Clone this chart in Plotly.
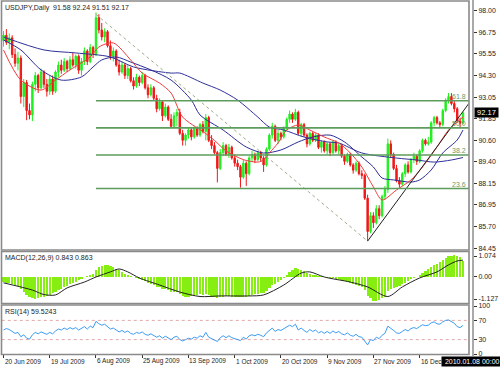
import plotly.graph_objects as go

W, H = 500, 367
def px(x): return x / W
def py(y): return 1 - y / H

# ---------------- data ----------------
date_ticks = [0, 16, 32, 48, 64, 80, 96, 112, 128, 144]
date_labels = ["20 Jun 2009", "19 Jul 2009", "6 Aug 2009", "25 Aug 2009", "13 Sep 2009",
               "1 Oct 2009", "20 Oct 2009", "9 Nov 2009", "27 Nov 2009", "16 Dec 2009"]

opens = [96.30,96.60,96.20,96.45,95.50,95.00,95.30,93.10,93.90,92.30,
         92.05,93.80,94.30,93.60,94.50,93.80,93.40,94.10,93.40,94.50,
         94.90,94.60,95.10,94.70,95.20,94.90,95.40,94.60,95.10,95.70,
         95.10,95.90,95.50,97.60,96.90,96.50,96.80,96.00,95.40,95.70,
         94.90,94.50,94.90,94.30,94.70,94.00,93.70,94.20,93.90,94.30,
         93.60,93.20,93.60,93.00,92.40,92.80,92.00,92.50,91.80,91.40,
         92.00,92.20,91.00,90.60,90.90,91.20,90.80,91.30,90.90,91.50,
         91.10,91.90,90.60,90.30,89.90,89.00,89.90,90.30,89.80,90.20,
         89.60,89.30,89.10,88.50,89.30,88.70,89.60,89.80,89.50,89.90,
         89.60,89.20,90.10,90.90,91.40,90.60,91.00,90.80,91.30,91.80,
         92.10,91.80,92.20,91.00,91.50,90.90,90.40,91.00,90.60,90.90,
         90.20,90.50,90.00,90.40,89.90,90.50,90.00,90.30,89.70,89.40,
         89.80,89.20,88.90,89.30,88.70,88.60,87.30,85.40,86.30,85.90,
         86.70,86.30,87.40,87.80,90.40,89.80,89.00,88.30,88.10,88.70,
         89.20,88.80,89.50,89.70,89.40,90.00,90.60,90.40,90.50,91.60,
         91.90,91.60,91.50,92.30,92.90,93.10,92.70,92.40,91.70,91.58]
highs = [96.85,96.95,96.70,96.60,95.85,95.65,95.45,94.10,94.05,92.70,
         93.95,94.50,94.40,94.70,94.60,94.10,94.30,94.30,94.60,95.10,
         95.20,95.30,95.20,95.40,95.60,95.50,95.50,95.30,95.90,95.80,
         96.10,96.00,97.90,97.80,97.30,97.00,96.90,96.30,95.90,95.80,
         95.20,95.10,95.00,94.90,94.80,94.20,94.40,94.30,94.50,94.40,
         93.80,93.80,93.70,93.20,93.00,92.90,92.70,92.60,92.10,92.20,
         92.40,92.40,91.20,91.00,91.30,91.30,91.40,91.40,91.60,91.70,
         92.10,92.00,90.90,90.50,90.00,90.10,90.50,90.40,90.40,90.30,
         89.80,89.50,89.20,89.50,89.40,89.70,90.00,89.90,90.00,90.00,
         89.70,90.20,91.00,91.60,91.50,91.20,91.10,91.40,91.90,92.30,
         92.20,92.40,92.30,91.60,91.60,91.00,91.10,91.10,91.00,91.00,
         90.60,90.60,90.50,90.50,90.60,90.60,90.40,90.40,89.80,89.90,
         89.90,89.30,89.40,89.40,88.90,88.70,87.50,86.50,86.50,86.90,
         86.90,87.50,88.00,90.70,90.60,89.90,89.20,88.50,88.80,89.30,
         89.40,89.60,89.90,89.80,90.10,90.70,90.70,90.80,91.70,92.00,
         92.00,91.70,92.40,93.00,93.30,93.30,92.90,92.50,91.90,92.24]
lows = [95.95,96.05,95.80,95.30,94.80,94.60,92.70,92.50,91.75,91.80,
        91.70,93.40,93.30,93.50,93.60,93.10,93.20,93.20,93.30,94.20,
        94.40,94.50,94.50,94.60,94.80,94.70,94.40,94.30,94.90,94.90,
        95.00,95.30,95.40,96.70,96.30,96.20,95.90,95.20,95.10,94.80,
        94.30,94.40,94.10,94.10,93.90,93.50,93.60,93.70,93.80,93.50,
        93.00,93.10,92.90,92.20,92.30,91.70,91.90,91.70,91.30,91.30,
        91.40,90.90,90.30,90.30,90.70,90.60,90.70,90.80,90.80,91.00,
        90.60,90.50,90.10,89.80,88.20,88.90,89.70,89.70,89.60,89.50,
        89.10,88.90,87.90,88.40,88.00,88.60,89.40,89.30,89.40,89.40,
        88.80,89.10,90.00,90.70,90.50,90.40,90.60,90.70,91.20,91.60,
        91.60,91.70,90.90,90.80,90.80,90.20,90.30,90.50,90.50,90.10,
        89.90,89.90,89.80,89.70,89.80,89.90,89.80,89.60,89.20,89.30,
        89.10,88.70,88.80,88.60,88.40,87.20,84.85,85.30,85.60,85.80,
        86.10,86.20,87.20,87.60,89.60,88.90,88.20,87.90,88.00,88.50,
        88.70,88.70,89.30,89.20,89.30,89.90,90.30,90.30,90.40,91.40,
        91.50,91.30,91.40,92.20,92.70,92.60,92.20,91.60,91.30,91.51]
closes = [96.60,96.20,96.45,95.50,95.00,95.30,93.10,93.90,92.30,92.05,
          93.80,94.30,93.60,94.50,93.80,93.40,94.10,93.40,94.50,94.90,
          94.60,95.10,94.70,95.20,94.90,95.40,94.60,95.10,95.70,95.10,
          95.90,95.50,97.60,96.90,96.50,96.80,96.00,95.40,95.70,94.90,
          94.50,94.90,94.30,94.70,94.00,93.70,94.20,93.90,94.30,93.60,
          93.20,93.60,93.00,92.40,92.80,92.00,92.50,91.80,91.40,92.00,
          92.20,91.00,90.60,90.90,91.20,90.80,91.30,90.90,91.50,91.10,
          91.90,90.60,90.30,89.90,89.00,89.90,90.30,89.80,90.20,89.60,
          89.30,89.10,88.50,89.30,88.70,89.60,89.80,89.50,89.90,89.60,
          89.20,90.10,90.90,91.40,90.60,91.00,90.80,91.30,91.80,92.10,
          91.80,92.20,91.00,91.50,90.90,90.40,91.00,90.60,90.90,90.20,
          90.50,90.00,90.40,89.90,90.50,90.00,90.30,89.70,89.40,89.80,
          89.20,88.90,89.30,88.70,88.60,87.30,85.40,86.30,85.90,86.70,
          86.30,87.40,87.80,90.40,89.80,89.00,88.30,88.10,88.70,89.20,
          88.80,89.50,89.70,89.40,90.00,90.60,90.40,90.50,91.60,91.90,
          91.60,91.50,92.30,92.90,93.10,92.70,92.40,91.70,91.58,92.17]
bars = list(range(len(closes)))

# moving averages (bar index, price)
ma_red_x = [0, 6, 13, 18, 23, 30, 33, 38, 44, 48, 54, 58, 62, 69, 73, 77, 83, 88, 90, 92, 95, 98, 102, 106, 111, 116, 120, 124, 128, 131, 136, 141, 145, 150, 154, 159]
ma_red_y = [95.76, 94.04, 93.47, 94.04, 94.62, 95.36, 95.93, 96.16, 95.19, 94.44, 93.87, 93.30, 91.93, 91.10, 90.60, 90.00, 89.50, 89.36, 89.48, 89.88, 90.45, 91.19, 91.48, 91.19, 90.79, 90.45, 89.88, 89.08, 87.94, 87.20, 87.77, 88.34, 89.08, 90.22, 91.19, 91.93]
ma_mid_x = [0, 6, 13, 20, 27, 31, 34, 39, 44, 51, 58, 65, 68, 76, 84, 90, 96, 102, 107, 113, 118, 124, 128, 131, 135, 141, 144, 148, 152, 157, 159]
ma_mid_y = [96.33, 95.76, 94.62, 94.04, 94.22, 94.79, 95.19, 95.36, 95.07, 94.62, 94.04, 92.90, 92.05, 91.19, 90.22, 89.88, 90.05, 90.51, 90.79, 90.90, 90.51, 89.65, 89.08, 88.45, 88.34, 88.22, 88.34, 88.91, 89.88, 90.62, 91.19]
ma_slow_x = [0, 14, 25, 37, 45, 58, 61, 69, 75, 81, 88, 92, 97, 104, 112, 116, 124, 136, 143, 149, 155, 159]
ma_slow_y = [96.50, 95.76, 95.59, 95.36, 94.79, 94.44, 94.44, 93.87, 93.47, 92.90, 91.93, 91.36, 91.19, 90.79, 90.51, 90.45, 89.88, 89.59, 89.48, 89.36, 89.48, 89.62]

fib_names = ["61.8", "50.0", "38.2", "23.6"]
fib_prices = [92.86, 91.31, 89.76, 87.85]
swing_x = [32, 126]
swing_y = [97.79, 84.85]
trend_x = [126, 161]
trend_y = [84.85, 92.70]

macd_hist = [-0.25,-0.30,-0.30,-0.35,-0.40,-0.45,-0.60,-0.75,-0.90,-1.00,
             -1.10,-1.15,-1.10,-1.05,-1.00,-0.95,-0.90,-0.80,-0.75,-0.65,
             -0.60,-0.50,-0.45,-0.35,-0.30,-0.25,-0.15,-0.10,0.00,0.05,
             0.10,0.15,0.35,0.50,0.55,0.60,0.60,0.55,0.50,0.40,
             0.35,0.25,0.15,0.10,0.05,0.00,-0.05,-0.10,-0.15,-0.20,
             -0.30,-0.35,-0.40,-0.50,-0.50,-0.60,-0.60,-0.65,-0.75,-0.75,
             -0.75,-0.85,-0.95,-1.00,-1.00,-0.95,-0.95,-0.90,-0.85,-0.90,
             -0.85,-0.90,-1.00,-1.05,-1.10,-1.05,-1.00,-0.95,-0.95,-1.00,
             -1.00,-1.00,-1.05,-1.00,-1.00,-0.95,-0.90,-0.85,-0.85,-0.80,
             -0.80,-0.70,-0.55,-0.40,-0.35,-0.25,-0.15,-0.05,0.10,0.25,
             0.35,0.45,0.40,0.35,0.30,0.20,0.15,0.10,0.08,0.05,
             0.03,0.00,-0.03,-0.05,-0.05,-0.08,-0.10,-0.15,-0.20,-0.25,
             -0.30,-0.35,-0.40,-0.45,-0.50,-0.65,-0.95,-1.10,-1.25,-1.25,
             -1.20,-1.10,-1.00,-0.70,-0.60,-0.55,-0.50,-0.45,-0.35,-0.30,
             -0.20,-0.10,-0.05,0.00,0.10,0.20,0.30,0.40,0.50,0.60,
             0.65,0.75,0.85,0.95,1.05,1.10,1.13,1.10,1.00,0.843]
signal_x = [0, 10, 14, 18, 22, 28, 32, 37, 40, 43, 47, 54, 61, 68, 75, 85, 90, 97, 103, 106, 111, 120, 126, 133, 138, 144, 150, 154, 157, 159]
signal_y = [-0.30, -0.67, -0.90, -0.92, -0.56, -0.26, 0.0, 0.26, 0.41, 0.26, -0.05, -0.41, -0.77, -1.0, -0.97, -0.97, -0.92, -0.41, 0.20, 0.26, 0.0, -0.26, -0.51, -1.0, -0.51, -0.05, 0.26, 0.62, 0.82, 0.863]

rsi = [50,53,51,46,43,45,36,40,33,31,
       40,45,42,46,43,41,45,42,48,52,
       50,54,51,55,52,55,50,54,57,52,
       58,55,68,63,60,62,56,52,54,49,
       46,49,45,48,43,41,45,43,46,41,
       39,42,38,35,38,33,37,33,30,35,
       37,30,27,30,33,31,35,33,38,35,
       45,35,32,30,26,34,38,34,38,34,
       32,31,28,35,31,38,40,38,41,39,
       36,44,50,54,47,51,49,53,57,60,
       57,62,50,54,49,45,51,47,50,44,
       47,43,47,43,48,44,47,42,40,44,
       39,37,41,36,35,28,19,30,28,35,
       32,39,43,58,54,49,44,43,47,51,
       48,53,55,53,57,61,59,60,65,67,
       63,62,67,70,71,68,64,57,55,59.52]

price_ticks = [98.00, 96.75, 95.55, 94.30, 93.05, 91.85, 90.60, 89.40, 88.15, 86.95, 85.70, 84.45]
macd_ticks = [1.074, 0.0, -1.127]
macd_tick_text = ["1.074", "0.00", "-1.127"]
rsi_ticks = [100, 70, 30, 0]

# ---------------- figure ----------------
FONT = "Liberation Sans"
TXT = "#1c1c1c"
fig = go.Figure()

fig.add_trace(go.Candlestick(
    x=bars, open=opens, high=highs, low=lows, close=closes,
    increasing=dict(line=dict(color="#1fef1f", width=1), fillcolor="#1fef1f"),
    decreasing=dict(line=dict(color="#f01818", width=1), fillcolor="#f01818"),
    whiskerwidth=0, hoverinfo="skip", showlegend=False, xaxis="x", yaxis="y"))

for xs, ys, col in [(ma_slow_x, ma_slow_y, "#30309a"), (ma_mid_x, ma_mid_y, "#2c2c96"),
                    (ma_red_x, ma_red_y, "#f03c3c")]:
    fig.add_trace(go.Scatter(x=xs, y=ys, mode="lines",
                             line=dict(color=col, width=1, shape="spline", smoothing=0.8),
                             hoverinfo="skip", showlegend=False, xaxis="x", yaxis="y"))

fig.add_trace(go.Scatter(x=swing_x, y=swing_y, mode="lines",
                         line=dict(color="#9aae88", width=1, dash="dot"),
                         hoverinfo="skip", showlegend=False, xaxis="x", yaxis="y"))
fig.add_trace(go.Scatter(x=trend_x, y=trend_y, mode="lines",
                         line=dict(color="#202020", width=1),
                         hoverinfo="skip", showlegend=False, xaxis="x", yaxis="y"))

for p in fib_prices:
    fig.add_trace(go.Scatter(x=[swing_x[0], 161.1], y=[p, p], mode="lines",
                             line=dict(color="#5c9c5c", width=1.6),
                             hoverinfo="skip", showlegend=False, xaxis="x", yaxis="y"))

# MACD
fig.add_trace(go.Bar(x=bars, y=macd_hist, width=0.78, marker=dict(color="#86ee10", line=dict(width=0)),
                     hoverinfo="skip", showlegend=False, xaxis="x", yaxis="y2"))
fig.add_trace(go.Scatter(x=signal_x, y=signal_y, mode="lines",
                         line=dict(color="#222222", width=1, shape="spline", smoothing=0.8),
                         hoverinfo="skip", showlegend=False, xaxis="x", yaxis="y2"))

# RSI
for lvl in [70, 30]:
    fig.add_trace(go.Scatter(x=[-0.6, 161.1], y=[lvl, lvl], mode="lines",
                             line=dict(color="#e2a8a8", width=1, dash="dot"),
                             hoverinfo="skip", showlegend=False, xaxis="x", yaxis="y3"))
fig.add_trace(go.Scatter(x=bars, y=rsi, mode="lines",
                         line=dict(color="#3c9cf4", width=1),
                         hoverinfo="skip", showlegend=False, xaxis="x", yaxis="y3"))

axis_common = dict(showgrid=False, zeroline=False, showline=False, fixedrange=True)
yax = dict(anchor="free", position=px(473), side="right", ticks="outside", ticklen=3,
           tickcolor="#333", tickfont=dict(family=FONT, size=7, color=TXT), automargin=False,
           **axis_common)

fig.update_layout(
    width=W, height=H, margin=dict(l=0, r=0, t=0, b=0),
    paper_bgcolor="white", plot_bgcolor="white", showlegend=False, bargap=0,
    font=dict(family=FONT, size=7, color=TXT),
    xaxis=dict(domain=[px(2), px(469)], range=[-0.52, 161.08], anchor="y3",
               tickmode="array", tickvals=date_ticks, showticklabels=False,
               ticks="outside", ticklen=3, tickcolor="#333",
               rangeslider=dict(visible=False), automargin=False, **axis_common),
    yaxis=dict(domain=[py(250), py(2)], range=[84.342, 98.497],
               tickmode="array", tickvals=price_ticks,
               ticktext=["%.2f" % v for v in price_ticks], **yax),
    yaxis2=dict(domain=[py(303), py(252)], range=[-1.332, 1.279],
                tickmode="array", tickvals=macd_ticks, ticktext=macd_tick_text, **yax),
    yaxis3=dict(domain=[py(354), py(306)], range=[0, 100],
                tickmode="array", tickvals=rsi_ticks, ticktext=[str(v) for v in rsi_ticks], **yax),
)

# panel frames
shapes = []
for (y0, y1) in [(1, 250), (251.5, 303.5), (305, 354.5)]:
    shapes.append(dict(type="rect", xref="paper", yref="paper",
                       x0=px(1.5), x1=px(469), y0=py(y1), y1=py(y0),
                       line=dict(color="#8a8a8a", width=1.6)))
shapes.append(dict(type="line", xref="paper", yref="paper", x0=px(473), x1=px(473),
                   y0=py(356), y1=py(0), line=dict(color="#555555", width=1)))
fig.update_layout(shapes=shapes)

ann = []
for t, lab in zip(date_ticks, date_labels):
    ann.append(dict(text=lab, xref="x", yref="paper", x=t, y=py(361), xanchor="left",
                    yanchor="middle", xshift=-1, showarrow=False,
                    font=dict(family=FONT, size=6.5, color=TXT)))
ann.append(dict(text="USDJPY,Daily  91.58 92.24 91.51 92.17", xref="paper", yref="paper",
                x=px(3), y=py(7.5), xanchor="left", yanchor="middle", showarrow=False,
                font=dict(family=FONT, size=7, color=TXT)))
ann.append(dict(text="MACD(12,26,9) 0.843 0.863", xref="paper", yref="paper",
                x=px(3), y=py(258), xanchor="left", yanchor="middle", showarrow=False,
                font=dict(family=FONT, size=7, color=TXT)))
ann.append(dict(text="RSI(14) 59.5243", xref="paper", yref="paper",
                x=px(3), y=py(311.5), xanchor="left", yanchor="middle", showarrow=False,
                font=dict(family=FONT, size=7, color=TXT)))
for name, p in zip(fib_names, fib_prices):
    ann.append(dict(text=name, xref="x", yref="y", x=160.8, y=p, xanchor="right",
                    yanchor="bottom", yshift=-1, showarrow=False,
                    font=dict(family=FONT, size=7, color="#6a9a6a")))
ann.append(dict(text=" %.2f " % closes[-1], xref="paper", yref="y", x=px(473.5), y=closes[-1],
                xanchor="left", yanchor="middle", showarrow=False, bgcolor="#000000",
                borderpad=0, font=dict(family=FONT, size=7.5, color="white")))
ann.append(dict(text=" 2010.01.08 00:00 ", xref="paper", yref="paper", x=px(441), y=py(361),
                xanchor="left", yanchor="middle", showarrow=False, bgcolor="#000000",
                borderpad=1, font=dict(family=FONT, size=7, color="white")))
fig.update_layout(annotations=ann)

fig.write_html("out.html", config={"displayModeBar": False, "staticPlot": True},
               post_script="document.body.style.margin='0';document.body.style.padding='0';")
